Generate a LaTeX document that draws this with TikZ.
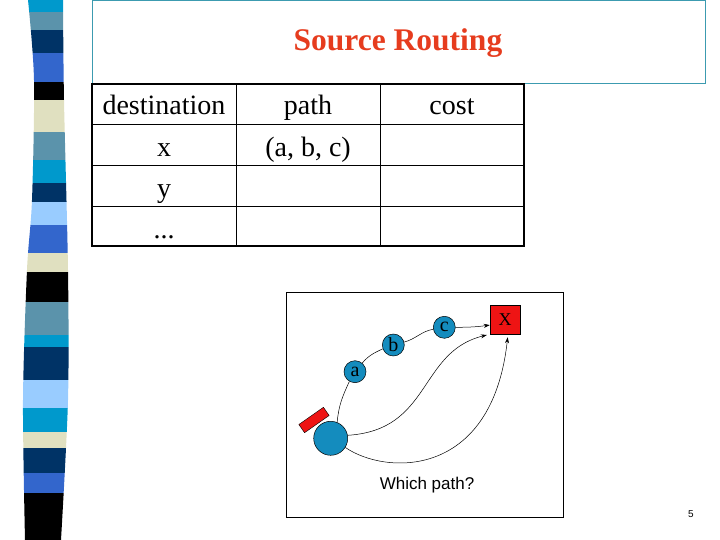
\documentclass[tikz,border=0pt]{standalone}
\usepackage{fontspec}
\setmainfont{Liberation Serif}
\newfontfamily\arialf{Liberation Sans}
\usetikzlibrary{arrows.meta}
\definecolor{scyan}{RGB}{0,153,204}
\definecolor{ssteel}{RGB}{91,147,171}
\definecolor{snavy}{RGB}{0,51,102}
\definecolor{sroyal}{RGB}{51,102,204}
\definecolor{sbeige}{RGB}{224,224,192}
\definecolor{slight}{RGB}{153,204,255}
\definecolor{titlered}{RGB}{230,60,30}
\definecolor{titlebox}{RGB}{60,155,176}
\definecolor{nodeblue}{RGB}{20,140,190}
\definecolor{boxred}{RGB}{238,20,20}
\tikzset{
  cell/.style={anchor=base, font=\fontsize{28}{30}\selectfont, inner sep=0pt},
  router/.style={circle, draw=black, line width=0.5pt, fill=nodeblue, minimum size=22pt, inner sep=0pt, font=\fontsize{20}{20}\selectfont},
  conn/.style={line width=0.5pt},
  arr/.style={line width=0.5pt, -{Stealth[length=6pt,width=4pt]}}
}
\begin{document}
\begin{tikzpicture}[x=1pt,y=-1pt]
\useasboundingbox (0,0) rectangle (720,540);
% stripe bar
\begin{scope}
\clip plot[smooth] coordinates {(28,0) (34,80) (32,200) (27,270) (23,400) (25,540)} -- plot[smooth] coordinates {(61,540) (68,400) (68,270) (64,100) (63,0)} -- cycle;
\fill[scyan] (0,0) rectangle (80,12);
\fill[ssteel] (0,12) rectangle (80,30);
\fill[snavy] (0,30) rectangle (80,53);
\fill[sroyal] (0,53) rectangle (80,82);
\fill[black] (0,82) rectangle (80,100);
\fill[sbeige] (0,100) rectangle (80,132);
\fill[ssteel] (0,132) rectangle (80,160);
\fill[scyan] (0,160) rectangle (80,183);
\fill[snavy] (0,183) rectangle (80,202);
\fill[slight] (0,202) rectangle (80,225);
\fill[sroyal] (0,225) rectangle (80,253);
\fill[sbeige] (0,253) rectangle (80,272);
\fill[black] (0,272) rectangle (80,302);
\fill[ssteel] (0,302) rectangle (80,335);
\fill[scyan] (0,335) rectangle (80,347);
\fill[snavy] (0,347) rectangle (80,380);
\fill[slight] (0,380) rectangle (80,408);
\fill[scyan] (0,408) rectangle (80,432);
\fill[sbeige] (0,432) rectangle (80,448);
\fill[snavy] (0,448) rectangle (80,473);
\fill[sroyal] (0,473) rectangle (80,493);
\fill[black] (0,493) rectangle (80,540);
\end{scope}
% title
\draw[titlebox, line width=0.8pt] (92,0.5) rectangle (705,83);
\node[text=titlered, font=\fontsize{31.5}{34}\selectfont\bfseries] (title) at (398,43) {Source Routing};
% table
\draw[line width=0.7pt] (92,124) -- (524,124) (92,165) -- (524,165) (92,206) -- (524,206)
  (236,84) -- (236,246) (380,84) -- (380,246);
\draw[line width=1.8pt] (92,84) rectangle (524,246);
\node[cell] (h1) at (164,115) {destination};
\node[cell] (h2) at (308,115) {path};
\node[cell] (h3) at (452,115) {cost};
\node[cell] (r1) at (164,157) {x};
\node[cell] (r1p) at (308,157) {(a, b, c)};
\node[cell] (r2) at (164,197) {y};
\node[cell] (r3) at (164,238) {...};
% diagram
\draw[line width=0.8pt] (286,292) rectangle (563,517);
\node[rectangle, draw=black, line width=0.5pt, fill=boxred, minimum width=30pt, minimum height=29pt, inner sep=0pt, font=\fontsize{18}{20}\selectfont] (X) at (505,319.5) {X};
\node[router] (c) at (444.3,327.3) {c};
\node[router] (b) at (393.3,345) {b};
\node[router] (a) at (355,371.7) {a};
\node[rectangle, draw=black, line width=0.4pt, fill=boxred, minimum width=30pt, minimum height=10pt, inner sep=0pt, rotate=35] (tag) at (314,420) {};
\node[circle, draw=black, line width=0.5pt, fill=nodeblue, minimum size=34pt, inner sep=0pt] (src) at (330.7,438.3) {};
\draw[conn] (src.68) to[out=85,in=245] (a.240);
\draw[conn] (a.50) to[out=50,in=205] (b.200);
\draw[conn] (b.15) to[out=15,in=190] (c.190);
\draw[arr] (c.east) to[out=0,in=188] (X.200);
\draw[arr, shorten >=3pt] (src.10) .. controls (432,430) and (418,352) .. (X.south west);
\draw[arr, shorten >=3pt] (src.-32) .. controls (385,475) and (492,480) .. ([xshift=3pt]X.south);
\node[font=\arialf\fontsize{17}{20}\selectfont] (q) at (427,485) {Which path?};
\node[font=\arialf\fontsize{10}{12}\selectfont] (pg) at (691,514) {5};
\end{tikzpicture}
\end{document}
